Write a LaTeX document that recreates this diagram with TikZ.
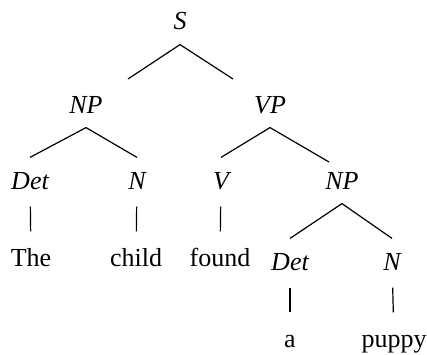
\documentclass[tikz,border=0pt]{standalone}
\usepackage{fontspec}
\setmainfont{Liberation Serif}

\begin{document}
\begin{tikzpicture}[x=0.5pt,y=0.5pt,line width=0.6pt,
  lbl/.style={anchor=base,font=\fontsize{13}{15}\selectfont,
    text height=11.5pt,text depth=3pt,inner ysep=4pt,inner xsep=1pt},
  cat/.style={lbl,font=\fontsize{13}{15}\selectfont\itshape}]
\useasboundingbox (0,0) rectangle (427,354);

\node[cat] (s) at (180,324) {S};
\node[cat] (np) at (86,241) {NP};
\node[cat] (vp) at (270,241) {VP};

\node[cat] (det) at (30,165) {Det};
\node[cat] (n) at (137,165) {N};
\node[cat] (v) at (221,165) {V};
\node[cat] (np2) at (342,165) {NP};

\node[lbl] (the) at (31,88) {The};
\node[lbl] (child) at (136,88) {child};
\node[lbl] (found) at (220,88) {found};
\node[cat] (det2) at (290,84) {Det};
\node[cat] (n2) at (392,84) {N};

\node[lbl] (a) at (290,7) {a};
\node[lbl] (puppy) at (394,7) {puppy};

\coordinate (s-l) at (128,275);
\coordinate (s-r) at (233,275);
\coordinate (vp-r) at (329,192);

\draw (s.south) -- (s-l);
\draw (s.south) -- (s-r);
\draw (np.south) -- (det.north);
\draw (np.south) -- (n.north);
\draw (vp.south) -- (v.north);
\draw (vp.south) -- (vp-r);
\draw (np2.south) -- (det2.north);
\draw (np2.south) -- (n2.north);

\draw[shorten <=1.5pt,shorten >=1.5pt] (det) -- (the);
\draw[shorten <=1.5pt,shorten >=1.5pt] (n) -- (child);
\draw[shorten <=1.5pt,shorten >=1.5pt] (v) -- (found);
\draw[shorten <=1.5pt,shorten >=1.5pt] (det2) -- (a);
\draw[shorten <=1.5pt,shorten >=1.5pt] (n2) -- (puppy);
\end{tikzpicture}
\end{document}
